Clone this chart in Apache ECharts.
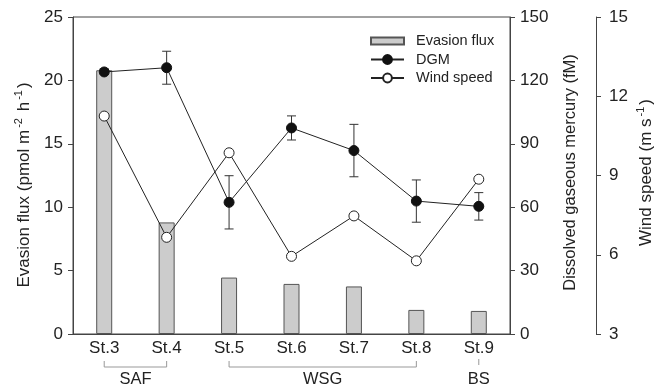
<!DOCTYPE html>
<html><head><meta charset="utf-8">
<script src="https://cdn.jsdelivr.net/npm/echarts@6/dist/echarts.min.js"></script>
<style>html,body{margin:0;padding:0;background:#fff}#c{width:665px;height:389px}</style>
</head><body><div id="c"></div>
<script>
const stations = ['St.3', 'St.4', 'St.5', 'St.6', 'St.7', 'St.8', 'St.9'];
const evasionFlux = [20.8, 8.8, 4.45, 3.95, 3.75, 1.9, 1.82];
const dgm = [124, 126, 62.3, 97.5, 86.8, 62.9, 60.4];
const dgmErr = [1.5, 7.8, 12.6, 5.7, 12.4, 10, 6.5];
const windSpeed = [11.25, 6.66, 9.86, 5.94, 7.47, 5.77, 8.86];
const groupNames = ['SAF', 'WSG', 'BS'];
const groupFrom = [0, 2, 6];
const groupTo = [1, 5, 6];
const fluxAxis = { min: 0, max: 25, interval: 5 };
const dgmAxis = { min: 0, max: 150, interval: 30 };
const windAxis = { min: 3, max: 15, interval: 3 };

const FONT = 'Liberation Sans, Arial, sans-serif';
const AX = '#444';
const TXT = '#222';
const chart = echarts.init(document.getElementById('c'));

const errData = stations.map((s, i) => [i, dgm[i] - dgmErr[i], dgm[i] + dgmErr[i]]);
const groupData = groupNames.map((g, i) => [groupFrom[i], groupTo[i]]);

const supRich = { sup: { fontSize: 11, lineHeight: 11, verticalAlign: 'top', padding: [0, 2, 0, 2], fontFamily: FONT, color: TXT } };

chart.setOption({
  animation: false,
  textStyle: { fontFamily: FONT },
  grid: { left: 73, top: 17, width: 445, height: 317, show: true, borderColor: AX, borderWidth: 1 },
  legend: [
    { data: [{ name: 'Evasion flux', icon: 'rect' }], orient: 'vertical', left: 370, top: 32, padding: 0,
      itemWidth: 33, itemHeight: 7, selectedMode: false,
      textStyle: { fontSize: 14.5, color: TXT, lineHeight: 18, padding: [0, 0, 0, 7] } },
    { data: ['DGM', 'Wind speed'], orient: 'vertical', left: 370, top: 50.5, padding: 0, itemGap: 0.5,
      itemWidth: 33, itemHeight: 11, selectedMode: false,
      textStyle: { fontSize: 14.5, color: TXT, lineHeight: 18, padding: [0, 0, 0, 7] } }
  ],
  xAxis: {
    type: 'category', data: stations, boundaryGap: true,
    axisLine: { lineStyle: { color: AX } }, axisTick: { show: false },
    axisLabel: { fontSize: 17, color: TXT, margin: 6 }
  },
  yAxis: [
    { type: 'value', position: 'left', min: fluxAxis.min, max: fluxAxis.max, interval: fluxAxis.interval,
      name: 'Evasion flux (pmol m{sup|-2} h{sup|-1})', nameLocation: 'middle', nameGap: 38, nameMoveOverlap: false,
      nameTextStyle: { fontSize: 17, lineHeight: 22, color: TXT, rich: supRich, padding: [0, 19, 0, 0] },
      axisLine: { show: true, lineStyle: { color: AX } }, axisTick: { show: true, length: 5, lineStyle: { color: AX } },
      axisLabel: { fontSize: 17, color: TXT, margin: 10 }, splitLine: { show: false } },
    { type: 'value', position: 'right', min: dgmAxis.min, max: dgmAxis.max, interval: dgmAxis.interval,
      name: 'Dissolved gaseous mercury (fM)', nameLocation: 'middle', nameGap: 50, nameMoveOverlap: false,
      nameTextStyle: { fontSize: 16.5, lineHeight: 20, color: TXT, padding: [0, 0, 0, 6] },
      axisLine: { show: true, lineStyle: { color: AX } }, axisTick: { show: true, length: 5, lineStyle: { color: AX } },
      axisLabel: { fontSize: 17, color: TXT, margin: 10 }, splitLine: { show: false } },
    { type: 'value', position: 'right', offset: 86, min: windAxis.min, max: windAxis.max, interval: windAxis.interval,
      name: 'Wind speed (m s{sup|-1})', nameLocation: 'middle', nameGap: 39, nameMoveOverlap: false,
      nameTextStyle: { fontSize: 17, lineHeight: 22, color: TXT, rich: supRich, padding: [0, 0, 0, 6] },
      axisLine: { show: true, lineStyle: { color: AX } }, axisTick: { show: true, length: 5, lineStyle: { color: AX } },
      axisLabel: { fontSize: 17, color: TXT, margin: 13 }, splitLine: { show: false } }
  ],
  series: [
    { name: 'Evasion flux', type: 'bar', yAxisIndex: 0, data: evasionFlux, barWidth: 16,
      itemStyle: { color: '#cccccc', borderColor: '#555', borderWidth: 1 } },
    { type: 'custom', yAxisIndex: 1, data: errData, encode: { x: 0, y: [1, 2] }, silent: true,
      renderItem: function (params, api) {
        const x = api.value(0);
        const lo = api.coord([x, api.value(1)]);
        const hi = api.coord([x, api.value(2)]);
        const w = 4.5;
        const st = { stroke: '#333', lineWidth: 1 };
        return { type: 'group', children: [
          { type: 'line', shape: { x1: lo[0], y1: lo[1], x2: hi[0], y2: hi[1] }, style: st },
          { type: 'line', shape: { x1: lo[0] - w, y1: lo[1], x2: lo[0] + w, y2: lo[1] }, style: st },
          { type: 'line', shape: { x1: hi[0] - w, y1: hi[1], x2: hi[0] + w, y2: hi[1] }, style: st }
        ] };
      } },
    { name: 'DGM', type: 'line', yAxisIndex: 1, data: dgm, symbol: 'circle', symbolSize: 10, showAllSymbol: true,
      lineStyle: { color: '#222', width: 1 }, itemStyle: { color: '#111', borderColor: '#111', borderWidth: 1 } },
    { name: 'Wind speed', type: 'line', yAxisIndex: 2, data: windSpeed, symbol: 'circle', symbolSize: 10, showAllSymbol: true,
      lineStyle: { color: '#222', width: 1 }, itemStyle: { color: '#fff', borderColor: '#222', borderWidth: 1 } },
    { type: 'custom', yAxisIndex: 0, data: groupData, silent: true, clip: false,
      renderItem: function (params, api) {
        const i = params.dataIndex;
        const p0 = api.coord([groupFrom[i], 0]);
        const p1 = api.coord([groupTo[i], 0]);
        const yt = p0[1] + 27, yb = p0[1] + 33;
        const pts = groupFrom[i] === groupTo[i]
          ? [[p0[0], yt - 2], [p0[0], yb - 2]]
          : [[p0[0], yt], [p0[0], yb], [p1[0], yb], [p1[0], yt]];
        return { type: 'group', children: [
          { type: 'polyline', shape: { points: pts }, style: { stroke: '#999', fill: null, lineWidth: 1 } },
          { type: 'text', style: { text: groupNames[i], x: (p0[0] + p1[0]) / 2, y: yb + 12, align: 'center', verticalAlign: 'middle',
            font: '16.5px ' + FONT, fill: TXT } }
        ] };
      } }
  ]
});
</script></body></html>
